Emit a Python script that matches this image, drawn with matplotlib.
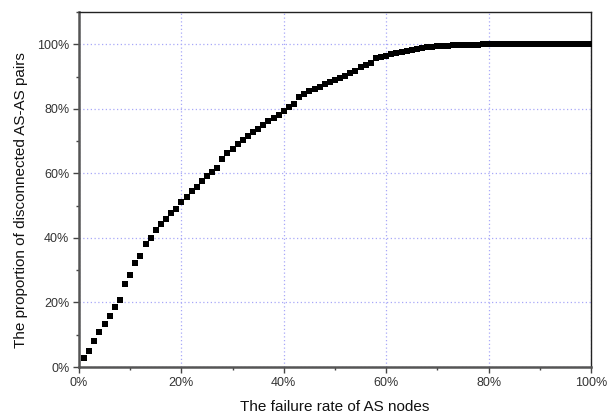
import matplotlib
matplotlib.use("Agg")
import matplotlib.pyplot as plt
from matplotlib.ticker import MultipleLocator, FuncFormatter

failure_rate = list(range(1, 101))
disconnected = [
    2.9, 5.0, 8.1, 10.9, 13.3, 15.8, 18.6, 20.7, 25.8, 28.4,
    32.2, 34.5, 38.2, 40.0, 42.3, 44.2, 45.9, 47.6, 49.0, 51.1,
    52.6, 54.4, 55.9, 57.5, 59.1, 60.4, 61.7, 64.6, 66.2, 67.6,
    69.0, 70.3, 71.5, 72.8, 73.9, 75.0, 76.1, 77.1, 78.1, 79.2,
    80.6, 81.4, 83.8, 84.5, 85.4, 86.2, 86.9, 87.6, 88.2, 88.9,
    89.6, 90.3, 91.0, 91.6, 93.0, 93.6, 94.2, 95.6, 96.1, 96.5,
    96.9, 97.3, 97.6, 97.9, 98.3, 98.6, 98.9, 99.1, 99.3, 99.4,
    99.5, 99.6, 99.7, 99.75, 99.8, 99.85, 99.88, 99.9, 99.93, 99.95,
    100, 100, 100, 100, 100, 100, 100, 100, 100, 100,
    100, 100, 100, 100, 100, 100, 100, 100, 100, 100,
]

plt.rcParams['font.family'] = ['Liberation Sans', 'DejaVu Sans']

fig = plt.figure(figsize=(6.11, 4.17), dpi=100)
ax = fig.add_axes([79/611, 1-367/417, (591-79)/611, (367-12)/417])

ax.plot(failure_rate, disconnected, linestyle='none', marker='s',
        markersize=4.2, color='black', markeredgewidth=0, zorder=3)

ax.set_xlim(0, 100)
ax.set_ylim(0, 110)
ax.xaxis.set_major_locator(MultipleLocator(20))
ax.xaxis.set_minor_locator(MultipleLocator(10))
ax.yaxis.set_major_locator(MultipleLocator(20))
ax.yaxis.set_minor_locator(MultipleLocator(10))
fmt = FuncFormatter(lambda v, p: f"{int(round(v))}%")
ax.xaxis.set_major_formatter(fmt)
ax.yaxis.set_major_formatter(fmt)
ax.set_yticks([0, 20, 40, 60, 80, 100])

ax.grid(True, which='major', color='#a8a8f8', linestyle=(0, (1, 2)), linewidth=0.9)
ax.set_axisbelow(True)

for s in ['left', 'bottom']:
    ax.spines[s].set_linewidth(1.8)
    ax.spines[s].set_color('#555555')
for s in ['top', 'right']:
    ax.spines[s].set_linewidth(1.0)
    ax.spines[s].set_color('#222222')

ax.tick_params(which='major', direction='out', length=4, width=1, color='#444444',
               labelsize=9, labelcolor='#333333', pad=3)
ax.tick_params(which='minor', direction='out', length=2.5, width=1, color='#444444')

ax.set_xlabel('The failure rate of AS nodes', fontsize=11, color='#111111', labelpad=8)
ax.set_ylabel('The proportion of disconnected AS-AS pairs', fontsize=11, color='#111111')
ax.yaxis.set_label_coords(-0.1, 0.47)

fig.savefig('out.png', dpi=100)
